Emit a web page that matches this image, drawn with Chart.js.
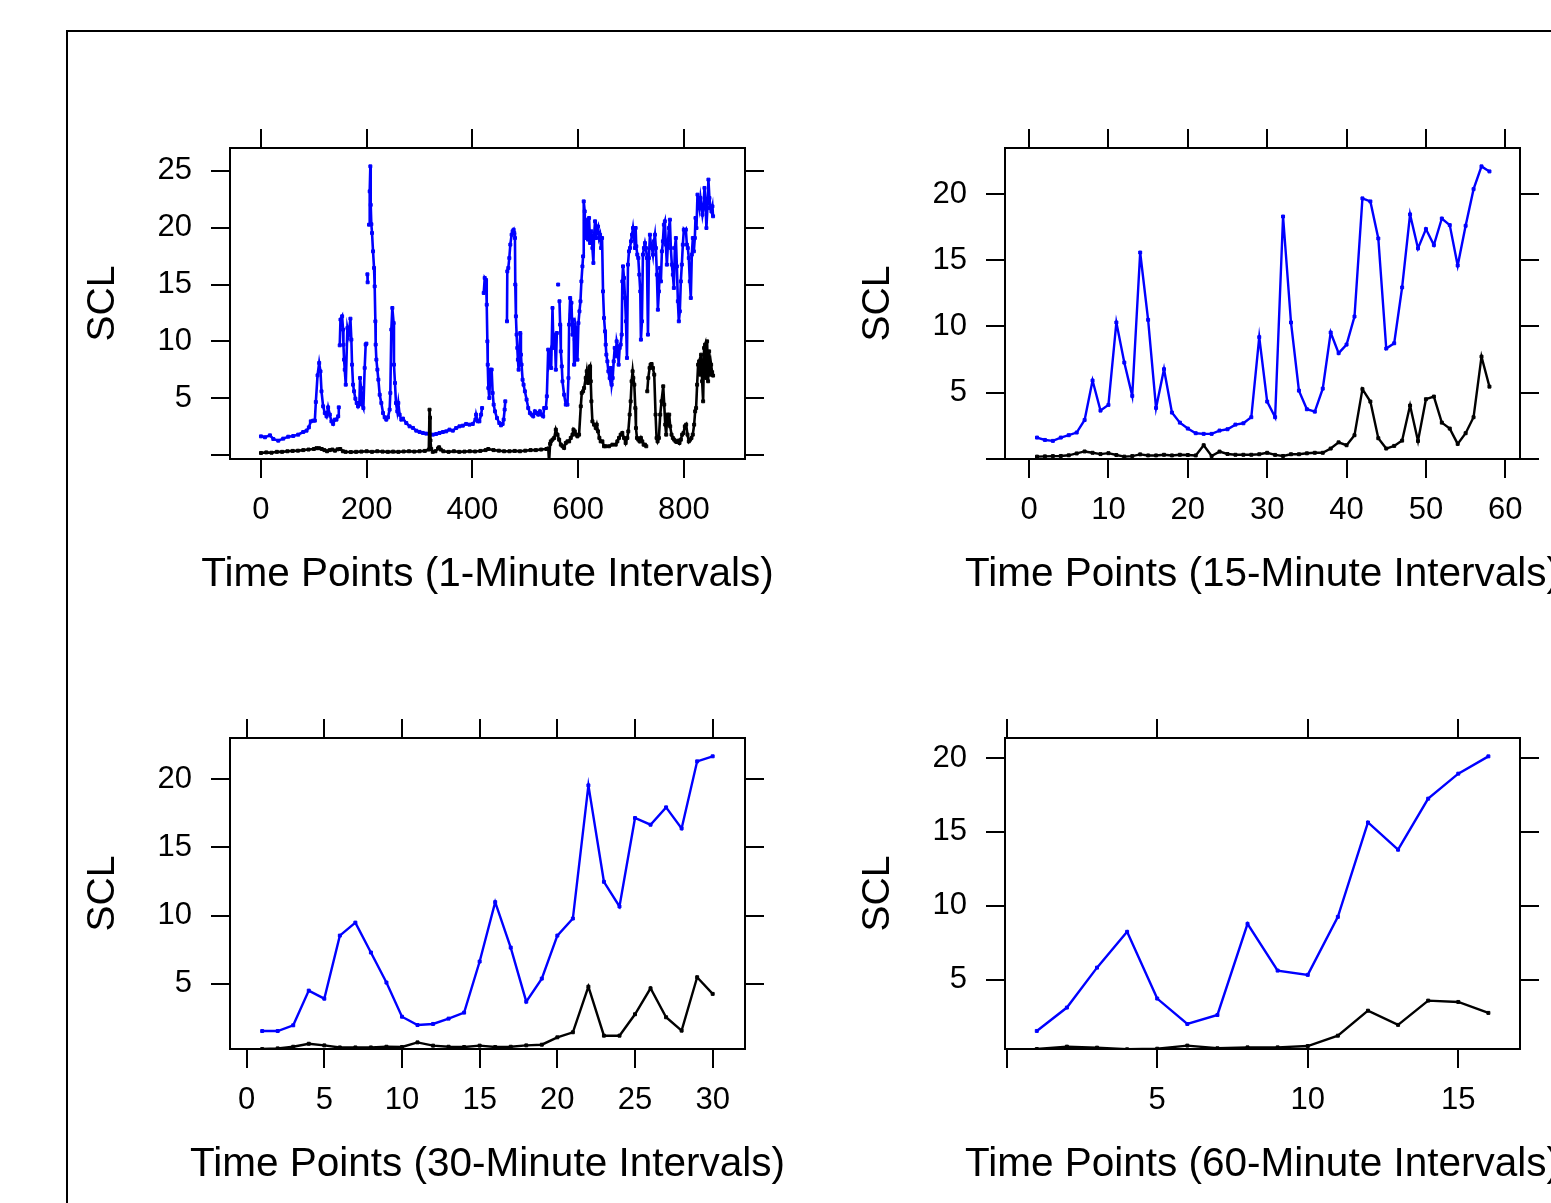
<!DOCTYPE html>
<html>
<head>
<meta charset="utf-8">
<title>SCL time series at four aggregation levels</title>
<script src="https://cdn.jsdelivr.net/npm/chart.js@4/dist/chart.umd.min.js"></script>
<style>
  html, body { margin: 0; padding: 0; background: #ffffff; overflow: hidden; width: 1551px; height: 1203px; }
  #frame { position: absolute; left: 66px; top: 30px; width: 1700px; height: 1400px;
           border-left: 2px solid #000; border-top: 2px solid #000; box-sizing: border-box; }
  canvas { position: absolute; }
</style>
</head>
<body>
<div id="frame"></div>
<canvas id="p1" width="745" height="541" style="left:60px;top:88px"></canvas>
<canvas id="p2" width="745" height="541" style="left:835px;top:88px"></canvas>
<canvas id="p3" width="745" height="541" style="left:60px;top:678px"></canvas>
<canvas id="p4" width="745" height="541" style="left:835px;top:678px"></canvas>
<script>
// ---------- 1-minute intervals (null marks a missing stretch) ----------
const min1BlueTime = [0,7.5,17,23.3,32.7,42.1,51.6,61,70.4,79.9,86.2,90.6,94.3,98.7,101.9,103.8,107,110.1,112.6,114.5,117.6,120.8,124,127,130.2,133.3,136.5,139.6,142.8,146,147.2,148,
  149,150.4,153.5,155.3,156,157.2,158.5,160.4,163.5,166,169.2,171,172.3,174.2,176.1,178.6,181.1,183.6,186.2,187.4,189.3,191.2,193.7,196.2,198.1,199.4,200.3,
  201.3,201.8,203,
  204.4,205.7,206.9,207.6,208.8,210.1,212,213.9,215.1,216.4,217,218.3,220.2,222.1,224.6,227.7,230.9,234,237.1,240.3,243.4,244.7,246.6,248.5,251,251.6,253.5,255.4,257.9,259.8,262.3,265.5,268.6,274.9,281.2,287.5,293.8,300,306.3,312.6,318.9,325.2,331.5,337.8,344.1,350.4,356.6,362.9,369.2,375.5,381.8,388.1,394.4,400.7,405.7,407,410.1,413.2,416.4,418.3,420,
  421.4,423.3,425.8,427.1,428.3,429,430.2,432,433.9,436.4,438.3,440.2,442.7,446.5,450.9,454,457.2,459.1,461,462.2,464,
  465.4,466,467.9,469.8,471.7,474.2,476.1,478,479.2,480.5,481.1,482.3,483.6,484.9,486.1,487.4,488.6,490.5,491.8,493,494.9,496.8,499.3,502.5,505.6,508.8,511.9,515.1,518.2,521.3,524.5,527.6,530.8,533.9,535.8,539,540.8,543.4,545.2,547.1,549,551.5,553.4,555.9,557.8,559.7,561,
  562.2,563.5,
  564.7,566,567.3,569.1,570.4,573.5,576.7,579.8,581.7,583,584.9,586.1,587.4,589.3,591.2,592.4,593.7,595.6,597.4,598.7,600.6,602.5,604.4,606.2,608.1,609.4,610.6,612.5,613.2,614.4,616.3,617.6,618.8,620.7,622.6,625.1,627,628.9,630.1,632,633.3,635.2,637.7,639.6,641.5,643.4,645.3,647.1,649,650.9,652.2,653.4,655.3,657.2,659.7,661.6,663.5,665.4,667.3,669.2,671.1,672.9,674.8,676.7,678.6,680.5,682.4,683.6,684.9,686.8,688.7,690.5,692.4,694.3,696.2,698.1,700,701.9,703.8,705.6,707.5,708.8,710,711.9,713.8,715.7,717.6,718.8,720.7,722.6,724.5,726.4,728.3,730.2,732.1,733.9,735.8,737.7,739.6,741.5,743.4,745.3,747.1,749,750.9,752.8,754.7,756.6,758.5,760.4,762.2,764.1,766,767.9,769.8,771.7,773.6,775.4,777.3,779.2,781.1,783,784.9,786.8,788.7,790.5,792.4,794.3,796.2,798.1,800,801.9,803.8,805.7,807.5,809.4,811.3,813.2,815.1,817,818.9,820.8,822,823.9,825.8,827.7,829.5,831.4,833.3,835.2,837.1,839,840.9,842.7,844.6,846.5,848.4,850.3,852.2,854.1,855.3];
const min1BlueSCL = [1.66,1.58,1.75,1.43,1.28,1.46,1.63,1.69,1.81,2.04,2.16,2.45,2.98,3.04,3.04,4.68,7.02,8.11,7.37,5.62,4.30,3.71,3.42,4.21,3.57,2.98,2.75,3.13,3.13,3.42,4.21,null,
  9.66,11.92,12.21,11.04,9.72,8.40,7.52,6.20,11.18,10.60,12.00,10.16,7.96,6.20,5.62,4.97,4.59,4.30,4.59,6.79,5.91,4.45,4.15,7.67,9.72,9.81,null,
  15.9,15.2,null,
  20.26,23.19,25.39,22.0,20.3,19.53,17.92,16.46,14.84,11.77,9.72,8.40,7.52,6.64,5.32,4.59,3.71,3.33,3.13,3.33,4.01,5.47,11.04,12.94,11.62,7.96,6.35,4.59,3.86,4.59,3.57,3.13,3.22,2.83,2.54,2.40,2.16,2.05,1.96,1.90,1.87,1.81,1.87,1.96,2.04,2.10,2.25,2.16,2.39,2.54,2.60,2.75,2.69,2.75,3.13,3.57,2.98,2.98,3.57,4.15,null,
  14.26,15.58,15.40,13.23,10.01,7.96,5.91,5.03,7.52,7.52,5.47,4.45,3.86,3.27,2.83,2.63,2.75,3.13,4.01,4.74,null,
  11.77,16.16,16.46,17.33,18.51,19.38,19.68,19.82,19.53,19.09,15.00,12.21,10.60,9.43,8.40,7.52,8.25,10.74,8.84,7.96,6.64,6.20,5.62,4.89,4.15,3.71,3.57,3.42,3.86,3.71,3.57,3.86,3.57,3.42,4.15,4.15,5.18,9.28,8.25,8.84,7.67,12.94,9.43,10.60,7.52,10.74,null,
  15.0,null,
  13.53,11.48,9.13,7.81,6.50,5.32,4.45,4.45,6.79,11.48,13.82,12.35,13.40,10.60,11.92,7.96,10.16,11.20,10.60,8.40,11.62,12.65,13.53,15.28,16.60,17.48,22.31,21.43,19.97,19.09,20.70,19.40,18.95,20.85,18.65,19.68,18.21,16.90,19.24,20.56,19.09,19.82,20.10,19.09,19.38,18.21,19.09,14.40,12.06,10.89,9.72,8.84,8.25,7.38,6.79,7.67,6.20,6.79,8.25,9.43,8.69,10.01,9.57,7.96,9.43,9.72,10.60,15.28,16.60,15.58,13.82,11.77,8.55,16.75,17.92,18.21,18.80,19.38,19.97,19.24,18.21,19.97,18.36,17.63,17.33,15.87,14.40,10.16,11.77,17.63,18.21,18.65,18.21,17.33,10.60,17.33,19.38,18.51,18.21,17.63,18.80,19.38,18.21,15.87,12.79,14.40,16.46,15.28,17.92,18.80,20.26,20.56,18.51,16.75,18.51,19.97,20.70,18.21,16.75,15.87,14.70,18.21,19.09,16.60,13.53,11.77,12.65,15.28,16.75,18.50,19.82,19.68,19.82,18.51,18.21,17.33,15.28,13.82,17.63,19.09,17.92,19.09,20.85,19.97,22.90,22.31,21.73,22.61,21.87,21.14,21.73,23.49,22.31,19.97,21.73,24.22,22.61,21.73,21.43,21.87,21.00];

const min1BlackTime = [0,10,20,30,40,50,60,70,80,90,100,105,110,115,120,125,130,135,140,145,150,155,160,170,180,190,200,210,220,230,240,250,260,270,280,290,300,310,317.5,318.9,319.8,320.6,322,325,330,335,337,340,345,355,365,375,385,395,405,415,425,430,440,450,460,470,480,490,500,510,520,530,540,543.5,545,547,
  548.4,551.5,554.7,557.8,561,564.1,567.3,570.4,573.5,576.7,579.8,583,586.1,589.3,591.2,593.7,596.2,598.7,601.8,605,606.9,609.4,611.3,614.4,616.3,618.8,621.3,622.6,623.9,625.1,627,630.1,633.3,635.2,637.7,640.2,642.7,645.9,649,652.2,658.5,664.8,671.1,674.2,677.3,680.5,683.6,686.8,689.9,693.1,694.9,697.5,699.4,701.2,703.1,704.4,706.3,708.2,709.4,711.3,713.8,716.3,718.8,721.4,723.9,726.4,728.9,729.8,
  730.8,732.7,735.2,737.1,739,741.5,744,746.5,748.4,750.3,752.8,755.3,757.8,761,762.9,764.8,766.6,768.5,770.4,772.3,774.2,776.7,779.2,781.7,784.3,786.8,789.3,791.8,794.3,796.8,799.3,801.9,804.4,806.9,809.4,811.9,814.4,816.9,819.5,821.4,823.2,825.1,827,828.9,830.8,832.7,834.6,836.5,838.3,840.2,842.1,844,845.9,847.8,849.7,851.6,853.5,855.3];
const min1BlackSCL = [0.20,0.25,0.22,0.30,0.30,0.35,0.38,0.40,0.45,0.50,0.55,0.62,0.62,0.55,0.45,0.35,0.45,0.50,0.40,0.52,0.55,0.35,0.30,0.28,0.30,0.32,0.35,0.30,0.35,0.32,0.30,0.32,0.30,0.33,0.35,0.32,0.35,0.38,0.50,4.00,3.30,1.30,0.55,0.30,0.35,0.60,0.70,0.50,0.35,0.30,0.35,0.30,0.32,0.35,0.33,0.38,0.45,0.55,0.45,0.40,0.35,0.35,0.38,0.35,0.40,0.45,0.45,0.50,0.55,0.60,-0.60,1.00,
  1.22,1.37,1.52,2.25,1.81,1.37,0.93,0.79,0.64,1.08,1.22,1.22,1.52,1.81,2.25,2.10,1.81,1.66,1.81,4.30,5.47,5.62,5.91,6.79,7.38,6.35,7.67,7.81,6.50,4.74,2.98,2.69,2.40,2.69,2.10,1.52,1.22,1.22,0.79,0.79,0.79,0.93,0.93,1.22,1.52,1.81,1.96,1.52,1.08,1.52,2.10,3.57,4.74,6.50,7.38,6.79,6.20,4.15,2.39,1.52,1.37,1.22,1.52,1.22,0.93,0.93,0.79,null,
  5.62,6.79,7.67,7.96,8.02,7.67,7.08,3.57,1.52,1.22,1.52,3.57,4.74,6.06,4.45,2.69,1.81,3.57,2.69,3.57,2.54,1.81,1.52,1.37,1.22,1.16,1.28,1.08,1.37,1.81,1.96,2.54,2.69,1.81,1.22,1.37,1.52,1.81,2.69,3.86,4.15,6.20,7.96,8.25,7.08,8.84,6.50,4.74,9.43,9.72,6.79,10.01,6.50,9.13,7.08,7.96,7.30,7.00];

// ---------- 15-minute intervals ----------
const min15Time = [1,2,3,4,5,6,7,8,9,10,11,12,13,14,15,16,17,18,19,20,21,22,23,24,25,26,27,28,29,30,31,32,33,34,35,36,37,38,39,40,41,42,43,44,45,46,47,48,49,50,51,52,53,54,55,56,57,58];
const min15Blue = [1.60,1.42,1.35,1.60,1.78,1.98,2.93,5.91,3.64,4.07,10.30,7.27,4.75,15.59,10.50,3.84,6.77,3.49,2.73,2.28,1.93,1.88,1.88,2.13,2.23,2.58,2.68,3.14,9.19,4.32,3.14,18.31,10.30,5.15,3.74,3.56,5.30,9.54,7.98,8.63,10.75,19.68,19.45,16.65,8.33,8.73,12.95,18.47,15.90,17.36,16.15,18.16,17.66,14.61,17.61,20.38,22.10,21.72];
const min15Black = [0.16,0.18,0.20,0.21,0.26,0.40,0.55,0.45,0.35,0.42,0.28,0.16,0.20,0.33,0.25,0.25,0.30,0.25,0.30,0.28,0.25,1.02,0.21,0.54,0.36,0.30,0.30,0.30,0.34,0.45,0.29,0.21,0.34,0.34,0.41,0.45,0.45,0.77,1.24,1.02,1.78,5.26,4.32,1.55,0.77,0.97,1.37,4.02,1.34,4.50,4.70,2.73,2.28,1.12,1.93,3.14,7.72,5.45];

// ---------- 30-minute intervals ----------
const min30Time = [1,2,3,4,5,6,7,8,9,10,11,12,13,14,15,16,17,18,19,20,21,22,23,24,25,26,27,28,29,30];
const min30Blue = [1.55,1.55,1.97,4.51,3.92,8.54,9.49,7.30,5.10,2.60,1.99,2.07,2.46,2.90,6.64,10.99,7.66,3.70,5.39,8.54,9.79,19.54,12.48,10.67,17.15,16.66,17.93,16.39,21.30,21.67];
const min30Black = [0.23,0.28,0.40,0.62,0.50,0.35,0.35,0.35,0.40,0.38,0.72,0.48,0.40,0.38,0.48,0.38,0.40,0.50,0.55,1.09,1.46,4.80,1.21,1.21,2.78,4.68,2.56,1.58,5.49,4.27];

// ---------- 60-minute intervals ----------
const min60Time = [1,2,3,4,5,6,7,8,9,10,11,12,13,14,15,16];
const min60Blue = [1.55,3.13,5.83,8.25,3.74,2.02,2.63,8.79,5.63,5.34,9.26,15.64,13.80,17.25,18.94,20.11];
const min60Black = [0.33,0.49,0.42,0.31,0.35,0.56,0.38,0.44,0.44,0.53,1.23,2.92,1.96,3.60,3.51,2.77];

// ---------- tick positions and their printed labels ----------
const min1XTicks = [0,200,400,600,800];       const min1XLabels = ['0','200','400','600','800'];
const min1YTicks = [0,5,10,15,20,25];         const min1YLabels = ['','5','10','15','20','25'];
const min15XTicks = [0,10,20,30,40,50,60];    const min15XLabels = ['0','10','20','30','40','50','60'];
const min15YTicks = [0,5,10,15,20];           const min15YLabels = ['','5','10','15','20'];
const min30XTicks = [0,5,10,15,20,25,30];     const min30XLabels = ['0','5','10','15','20','25','30'];
const min30YTicks = [5,10,15,20];             const min30YLabels = ['5','10','15','20'];
const min60XTicks = [0,5,10,15];              const min60XLabels = ['','5','10','15'];
const min60YTicks = [5,10,15,20];             const min60YLabels = ['5','10','15','20'];

// ---------- drawing ----------
const FONT_FAMILY = '"Liberation Sans", Arial, Helvetica, sans-serif';
Chart.defaults.font.family = FONT_FAMILY;
Chart.defaults.color = '#000000';

const INK = '#000000';
const BLUE = '#0000ff';
const TICK_FONT = 31;
const XTITLE_FONT = 40.5;
const YTITLE_FONT = 39;
const TICK_LEN = 19;

// x-axis caption drawn at its natural width (the built-in scale title
// squeezes text to the plot width)
const axisCaption = {
  id: 'axisCaption',
  afterDraw(chart, args, opts) {
    const { ctx, chartArea } = chart;
    ctx.save();
    ctx.font = opts.size + 'px ' + FONT_FAMILY;
    ctx.fillStyle = INK;
    ctx.textAlign = 'center';
    ctx.textBaseline = 'alphabetic';
    ctx.fillText(opts.text, (chartArea.left + chartArea.right) / 2, chartArea.bottom + opts.baselineGap);
    ctx.restore();
  }
};

function toPoints(xs, ys) {
  return xs.map((x, i) => ({ x: x, y: ys[i] }));
}

function series(points, color, lineWidth) {
  return {
    data: points,
    borderColor: color,
    backgroundColor: color,
    borderWidth: lineWidth,
    pointStyle: 'rect',
    pointRadius: 2.1,
    pointBorderWidth: 1,
    pointBackgroundColor: color,
    pointBorderColor: color,
    tension: 0,
    spanGaps: false,
    fill: false
  };
}

function frameLines() {
  return {
    grid: { drawOnChartArea: false, drawTicks: true, tickLength: TICK_LEN, color: INK, lineWidth: 2 },
    border: { display: true, color: INK, width: 2 }
  };
}

function fixedTicks(values) {
  return function (scale) { scale.ticks = values.map(v => ({ value: v })); };
}

function drawPanel(id, p) {
  new Chart(document.getElementById(id), {
    type: 'line',
    data: { datasets: [series(p.black, INK, p.lineWidth), series(p.blue, BLUE, p.lineWidth)] },
    plugins: [axisCaption],
    options: {
      responsive: false,
      animation: false,
      events: [],
      layout: { padding: 0 },
      plugins: {
        legend: { display: false },
        tooltip: { enabled: false },
        axisCaption: { text: p.xTitle, size: XTITLE_FONT, baselineGap: 127 }
      },
      scales: {
        x: Object.assign({
          type: 'linear', position: 'bottom', min: p.xMin, max: p.xMax,
          afterBuildTicks: fixedTicks(p.xTicks),
          afterFit: s => { s.height = 170; },
          ticks: { autoSkip: false, maxRotation: 0, padding: 14, font: { size: TICK_FONT },
                   callback: (v, i) => p.xLabels[i] }
        }, frameLines()),
        xTop: Object.assign({
          type: 'linear', position: 'top', min: p.xMin, max: p.xMax,
          afterBuildTicks: fixedTicks(p.xTicks),
          afterFit: s => { s.height = 60; },
          ticks: { display: false }
        }, frameLines()),
        y: Object.assign({
          type: 'linear', position: 'left', min: p.yMin, max: p.yMax,
          afterBuildTicks: fixedTicks(p.yTicks),
          afterFit: s => { s.width = 170; },
          ticks: { autoSkip: false, padding: 19, font: { size: TICK_FONT },
                   callback: (v, i) => p.yLabels[i] },
          title: { display: true, text: 'SCL', font: { size: YTITLE_FONT }, padding: { top: 20, bottom: 0 } }
        }, frameLines()),
        yRight: Object.assign({
          type: 'linear', position: 'right', min: p.yMin, max: p.yMax,
          afterBuildTicks: fixedTicks(p.yTicks),
          afterFit: s => { s.width = 60; },
          ticks: { display: false }
        }, frameLines())
      }
    }
  });
}

drawPanel('p1', {
  blue: toPoints(min1BlueTime, min1BlueSCL), black: toPoints(min1BlackTime, min1BlackSCL), lineWidth: 2.6,
  xMin: -58.6, xMax: 915.7, yMin: -0.33, yMax: 27.0,
  xTicks: min1XTicks, xLabels: min1XLabels, yTicks: min1YTicks, yLabels: min1YLabels,
  xTitle: 'Time Points (1-Minute Intervals)'
});
drawPanel('p2', {
  blue: toPoints(min15Time, min15Blue), black: toPoints(min15Time, min15Black), lineWidth: 2.4,
  xMin: -3.03, xMax: 61.85, yMin: -0.02, yMax: 23.49,
  xTicks: min15XTicks, xLabels: min15XLabels, yTicks: min15YTicks, yLabels: min15YLabels,
  xTitle: 'Time Points (15-Minute Intervals)'
});
drawPanel('p3', {
  blue: toPoints(min30Time, min30Blue), black: toPoints(min30Time, min30Black), lineWidth: 2.4,
  xMin: -1.07, xMax: 32.08, yMin: 0.235, yMax: 23.01,
  xTicks: min30XTicks, xLabels: min30XLabels, yTicks: min30YTicks, yLabels: min30YLabels,
  xTitle: 'Time Points (30-Minute Intervals)'
});
drawPanel('p4', {
  blue: toPoints(min60Time, min60Blue), black: toPoints(min60Time, min60Black), lineWidth: 2.4,
  xMin: -0.056, xMax: 17.05, yMin: 0.33, yMax: 21.35,
  xTicks: min60XTicks, xLabels: min60XLabels, yTicks: min60YTicks, yLabels: min60YLabels,
  xTitle: 'Time Points (60-Minute Intervals)'
});
</script>
</body>
</html>
